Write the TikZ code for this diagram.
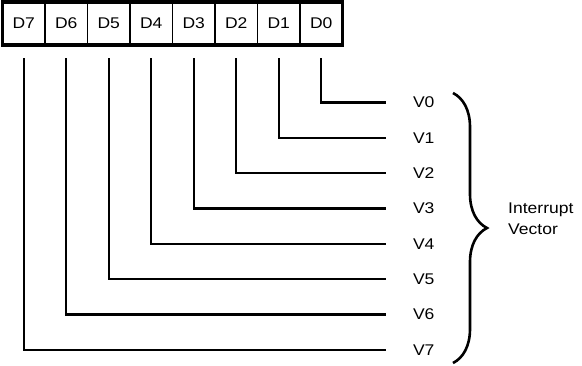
\documentclass[tikz,border=0pt]{standalone}
\usepackage{fontspec}
\setmainfont{Liberation Sans}[FakeStretch=1.13]
\usetikzlibrary{positioning, fit, decorations.pathreplacing}

\begin{document}
\begin{tikzpicture}[x=1pt, y=-1pt, font=\fontsize{15.5}{21}\selectfont,
        bitcell/.style={draw, line width=1.6pt, minimum width=42.5pt, minimum height=43pt, inner sep=0pt, outer sep=0pt},
        reg/.style={draw, line width=3.6pt, inner sep=0pt},
        vec/.style={minimum height=35.35pt, inner sep=0pt, outer sep=0pt},
        wire/.style={line width=2.4pt},
        brace/.style={decorate, decoration={brace, amplitude=34pt}, line width=2.6pt}]
        \useasboundingbox (0,0) rectangle (582,365);
        \node[bitcell] (d7) at (23.75,23.5) {D7};
        \node[bitcell, right=0pt of d7] (d6) {D6};
        \node[bitcell, right=0pt of d6] (d5) {D5};
        \node[bitcell, right=0pt of d5] (d4) {D4};
        \node[bitcell, right=0pt of d4] (d3) {D3};
        \node[bitcell, right=0pt of d3] (d2) {D2};
        \node[bitcell, right=0pt of d2] (d1) {D1};
        \node[bitcell, right=0pt of d1] (d0) {D0};
        \node[reg, fit=(d7)(d0)] (regbox) {};
        \node[vec, anchor=west] (v0) at (413,102.5) {V0};
        \node[vec, below=0pt of v0] (v1) {V1};
        \node[vec, below=0pt of v1] (v2) {V2};
        \node[vec, below=0pt of v2] (v3) {V3};
        \node[vec, below=0pt of v3] (v4) {V4};
        \node[vec, below=0pt of v4] (v5) {V5};
        \node[vec, below=0pt of v5] (v6) {V6};
        \node[vec, below=0pt of v6] (v7) {V7};
        \draw[wire] ([yshift=-13pt]d0.south) |- ([xshift=-27pt]v0.west);
        \draw[wire] ([yshift=-13pt]d1.south) |- ([xshift=-27pt]v1.west);
        \draw[wire] ([yshift=-13pt]d2.south) |- ([xshift=-27pt]v2.west);
        \draw[wire] ([yshift=-13pt]d3.south) |- ([xshift=-27pt]v3.west);
        \draw[wire] ([yshift=-13pt]d4.south) |- ([xshift=-27pt]v4.west);
        \draw[wire] ([yshift=-13pt]d5.south) |- ([xshift=-27pt]v5.west);
        \draw[wire] ([yshift=-13pt]d6.south) |- ([xshift=-27pt]v6.west);
        \draw[wire] ([yshift=-13pt]d7.south) |- ([xshift=-27pt]v7.west);
        \coordinate (bt) at (453,93);
        \coordinate (bb) at (453,363);
        \draw[brace] (bt) -- (bb);
        \node[align=left, anchor=west, inner sep=0pt] (irq) at (508,218.5) {Interrupt\\Vector};
      \end{tikzpicture}
\end{document}
